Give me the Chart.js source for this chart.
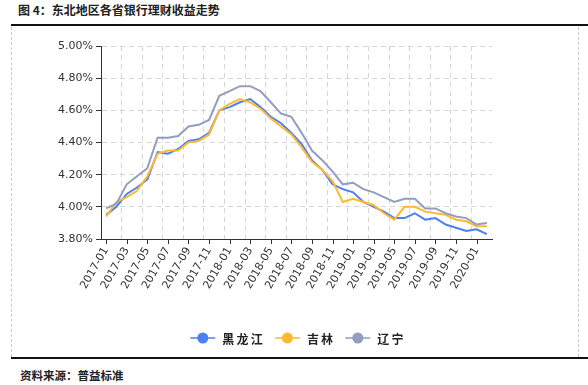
<!DOCTYPE html>
<html>
<head>
<meta charset="utf-8">
<script src="https://cdn.jsdelivr.net/npm/chart.js@4"></script>
<style>
  html, body { margin: 0; padding: 0; background: #fff; }
  body { width: 588px; height: 385px; position: relative; overflow: hidden; }
  .cjk { font-family: "Noto Sans CJK SC", "DejaVu Sans", sans-serif; color: #222; position: absolute; white-space: nowrap; }
  #title { left: 18px; top: 1px; font-size: 12px; line-height: 17px; font-weight: bold; }
  #source { left: 20px; top: 367px; font-size: 11.5px; line-height: 16px; font-weight: bold; }
  .hline { position: absolute; left: 11px; width: 577px; height: 2px; background: #111; }
  .vline { position: absolute; top: 27px; height: 330px; width: 0; border-left: 1px dashed #c8c8c8; }
  #c { position: absolute; left: 0; top: 0; }
</style>
</head>
<body>
<div id="title" class="cjk">图 4：东北地区各省银行理财收益走势</div>
<div class="hline" style="top:24px"></div>
<div class="vline" style="left:11px"></div>
<div class="vline" style="left:578px"></div>
<div class="hline" style="top:357px"></div>
<div id="source" class="cjk">资料来源：普益标准</div>
<canvas id="c" width="588" height="385"></canvas>
<script>
// ---- data ----
const months = [
  "2017-01","2017-02","2017-03","2017-04","2017-05","2017-06","2017-07","2017-08","2017-09","2017-10","2017-11","2017-12",
  "2018-01","2018-02","2018-03","2018-04","2018-05","2018-06","2018-07","2018-08","2018-09","2018-10","2018-11","2018-12",
  "2019-01","2019-02","2019-03","2019-04","2019-05","2019-06","2019-07","2019-08","2019-09","2019-10","2019-11","2019-12",
  "2020-01","2020-02"
];
const seriesNames = ["黑龙江", "吉林", "辽宁"];
const heilongjiang = [3.95,4.00,4.08,4.12,4.17,4.34,4.33,4.36,4.41,4.42,4.46,4.60,4.62,4.65,4.67,4.62,4.56,4.52,4.46,4.39,
  4.29,4.23,4.14,4.11,4.09,4.03,4.00,3.97,3.93,3.93,3.96,3.92,3.93,3.89,3.87,3.85,3.86,3.83];
const jilin = [3.94,4.03,4.06,4.10,4.19,4.33,4.35,4.35,4.40,4.41,4.45,4.60,4.64,4.67,4.65,4.61,4.55,4.50,4.45,4.37,
  4.28,4.23,4.16,4.03,4.05,4.03,4.01,3.96,3.92,4.00,4.00,3.97,3.96,3.95,3.92,3.91,3.88,3.88];
const liaoning = [3.99,4.02,4.14,4.19,4.24,4.43,4.43,4.44,4.50,4.51,4.54,4.69,4.72,4.75,4.75,4.72,4.65,4.58,4.56,4.46,
  4.35,4.29,4.22,4.14,4.15,4.11,4.09,4.06,4.03,4.05,4.05,3.99,3.99,3.96,3.94,3.93,3.89,3.90];
const yTicksMin = 3.8, yTicksMax = 5.0, yTickStep = 0.2;

const colors = ["#4D7FF2", "#FDBA2C", "#939EBF"];
const seriesValues = [heilongjiang, jilin, liaoning];

const tickFont = { family: "DejaVu Sans", size: 11 };

// tick marks at label centres (every 2 months) + custom legend
const extras = {
  id: "extras",
  afterDraw(chart) {
    const ctx = chart.ctx;
    const xs = chart.scales.x;
    const bottom = chart.chartArea.bottom;
    ctx.save();
    ctx.strokeStyle = "#333";
    ctx.lineWidth = 1;
    ctx.beginPath();
    for (let i = 0; i < months.length; i += 2) {
      const x = Math.round(xs.getPixelForTick(i)) + 0.5;
      ctx.moveTo(x, bottom);
      ctx.lineTo(x, bottom + 5);
    }
    ctx.stroke();

    // legend
    ctx.font = "bold 12px 'Noto Sans CJK SC'";
    ctx.textBaseline = "middle";
    const adv = 14.2, markW = 25, gapT = 7, gapI = 12;
    const ds = chart.data.datasets;
    const widths = ds.map(d => markW + gapT + d.label.length * adv - 2);
    const total = widths.reduce((a, b) => a + b, 0) + gapI * (ds.length - 1);
    let x = 297 - total / 2;
    const y = 338;
    ds.forEach((d, k) => {
      ctx.strokeStyle = d.borderColor;
      ctx.lineWidth = 1.5;
      ctx.beginPath();
      ctx.moveTo(x, y); ctx.lineTo(x + markW, y); ctx.stroke();
      ctx.fillStyle = d.borderColor;
      ctx.beginPath();
      ctx.arc(x + markW / 2, y, 5.5, 0, Math.PI * 2); ctx.fill();
      ctx.fillStyle = "#222";
      let tx = x + markW + gapT;
      for (const ch of d.label) { ctx.fillText(ch, tx, y + 1); tx += adv; }
      x += widths[k] + gapI;
    });
    ctx.restore();
  }
};

new Chart(document.getElementById("c"), {
  type: "line",
  data: {
    labels: months,
    datasets: seriesNames.map((name, k) => ({
      label: name,
      data: seriesValues[k],
      borderColor: colors[k],
      backgroundColor: colors[k],
      borderWidth: 2,
      pointRadius: 0,
      tension: 0,
      order: 3 - k
    }))
  },
  options: {
    responsive: false,
    animation: false,
    events: [],
    layout: { padding: { left: 41, top: 46, right: 96, bottom: 86 } },
    plugins: { legend: { display: false }, tooltip: { enabled: false } },
    scales: {
      x: {
        type: "category",
        offset: true,
        afterFit(s) { s.height = 60; },
        grid: {
          offset: true,
          color: c => (c.index % 2 === 0 ? "#d6d6d6" : "rgba(0,0,0,0)"),
          tickColor: "rgba(0,0,0,0)",
          tickLength: 5,
          lineWidth: 1
        },
        border: { display: true, color: "#333", width: 1, dash: [5, 4] },
        ticks: {
          autoSkip: false,
          minRotation: 60,
          maxRotation: 60,
          padding: 1,
          color: "#333",
          font: tickFont,
          callback: (v, i) => (i % 2 === 0 ? months[i] : "")
        }
      },
      y: {
        min: yTicksMin,
        max: yTicksMax,
        afterFit(s) { s.width = 60; },
        grid: { color: "#d6d6d6", tickColor: "#333", tickLength: 5, lineWidth: 1, tickBorderDash: [] },
        border: { display: true, color: "#333", width: 1, dash: [5, 4] },
        ticks: {
          stepSize: yTickStep,
          padding: 3,
          color: "#333",
          font: tickFont,
          callback: v => v.toFixed(2) + "%"
        }
      }
    }
  },
  plugins: [extras]
});
</script>
</body>
</html>
